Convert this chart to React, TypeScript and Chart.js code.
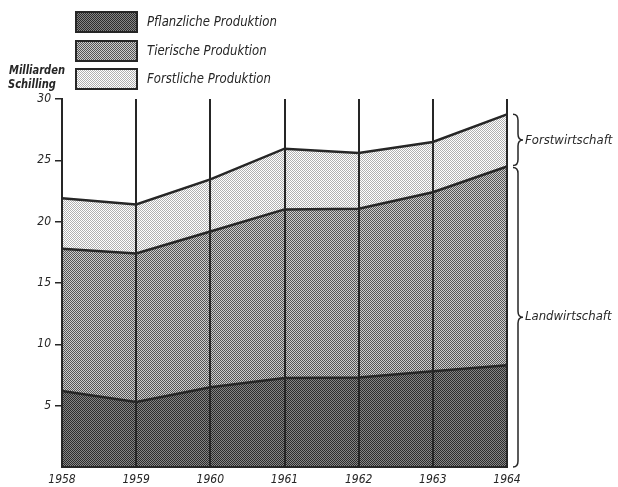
import React, { useEffect, useRef } from "react";
import { Chart, registerables } from "chart.js";

Chart.register(...registerables);

const years = ["1958", "1959", "1960", "1961", "1962", "1963", "1964"];
const pflanzlich = [6.2, 5.3, 6.5, 7.25, 7.3, 7.8, 8.3];
const tierisch = [11.6, 12.1, 12.7, 13.75, 13.75, 14.6, 16.2];
const forstlich = [4.1, 4.0, 4.25, 4.95, 4.55, 4.1, 4.25];
const seriesLabels = ["Pflanzliche Produktion", "Tierische Produktion", "Forstliche Produktion"];
const axisTitle = ["Milliarden", "Schilling"];
const braceLabels = ["Forstwirtschaft", "Landwirtschaft"];

const FONT = "'DejaVu Sans Condensed', 'DejaVu Sans', sans-serif";
const INK = "#262626";

function makePattern(ctx: CanvasRenderingContext2D, a: string, b: string) {
  const c = document.createElement("canvas");
  c.width = 2;
  c.height = 2;
  const p = c.getContext("2d")!;
  p.fillStyle = a;
  p.fillRect(0, 0, 2, 2);
  p.fillStyle = b;
  p.fillRect(0, 0, 1, 1);
  p.fillRect(1, 1, 1, 1);
  return ctx.createPattern(c, "repeat")!;
}

function drawBrace(ctx: CanvasRenderingContext2D, x: number, y1: number, y2: number, w: number) {
  const ym = (y1 + y2) / 2;
  const r = Math.min(6, (y2 - y1) / 4);
  const xm = x + w / 2;
  ctx.beginPath();
  ctx.moveTo(x, y1);
  ctx.quadraticCurveTo(xm, y1, xm, y1 + r);
  ctx.lineTo(xm, ym - r);
  ctx.quadraticCurveTo(xm, ym, x + w, ym);
  ctx.quadraticCurveTo(xm, ym, xm, ym + r);
  ctx.lineTo(xm, y2 - r);
  ctx.quadraticCurveTo(xm, y2, x, y2);
  ctx.stroke();
}

export default function App() {
  const ref = useRef<HTMLCanvasElement>(null);

  useEffect(() => {
    const canvas = ref.current!;
    const ctx = canvas.getContext("2d")!;
    const fills = [
      makePattern(ctx, "#858585", "#2c2c2c"),
      makePattern(ctx, "#cccccc", "#555555"),
      makePattern(ctx, "#ffffff", "#b0b0b0"),
    ];

    const extras = {
      id: "extras",
      afterDraw(chart: any) {
        const c = chart.ctx as CanvasRenderingContext2D;
        c.save();
        // legend
        const boxX = 76, boxW = 61, boxH = 20;
        const boxYs = [12, 41, 69];
        chart.data.datasets.forEach((ds: any, i: number) => {
          c.fillStyle = ds.backgroundColor;
          c.fillRect(boxX, boxYs[i], boxW, boxH);
          c.strokeStyle = INK;
          c.lineWidth = 2;
          c.strokeRect(boxX, boxYs[i], boxW, boxH);
          c.fillStyle = INK;
          c.font = `italic 14px ${FONT}`;
          c.textAlign = "left";
          c.textBaseline = "middle";
          c.save();
          c.translate(147, boxYs[i] + boxH / 2);
          c.scale(0.93, 1);
          c.fillText(ds.label, 0, 0);
          c.restore();
        });
        // axis title
        c.font = `italic bold 12px ${FONT}`;
        c.textAlign = "left";
        c.textBaseline = "middle";
        c.fillStyle = INK;
        c.save();
        c.translate(9, 71);
        c.scale(0.92, 1);
        c.fillText(axisTitle[0], 0, 0);
        c.restore();
        c.save();
        c.translate(8, 85);
        c.scale(0.92, 1);
        c.fillText(axisTitle[1], 0, 0);
        c.restore();
        // braces
        const last = years.length - 1;
        const yTop = chart.getDatasetMeta(2).data[last].y;
        const yMid = chart.getDatasetMeta(1).data[last].y;
        const yBot = chart.scales.y.getPixelForValue(0);
        c.strokeStyle = INK;
        c.lineWidth = 1.5;
        drawBrace(c, 513, yTop, yMid - 1, 10);
        drawBrace(c, 513, yMid + 1, yBot, 10);
        c.font = `italic 13px ${FONT}`;
        c.textAlign = "left";
        c.fillText(braceLabels[0], 525, (yTop + yMid) / 2);
        c.fillText(braceLabels[1], 525, (yMid + yBot) / 2);
        c.restore();
      },
    };

    const chart = new Chart(canvas, {
      type: "line",
      data: {
        labels: years,
        datasets: [
          { label: seriesLabels[0], data: pflanzlich, backgroundColor: fills[0] as any, fill: "origin" },
          { label: seriesLabels[1], data: tierisch, backgroundColor: fills[1] as any, fill: "-1" },
          { label: seriesLabels[2], data: forstlich, backgroundColor: fills[2] as any, fill: "-1" },
        ].map((d) => ({
          ...d,
          borderColor: INK,
          borderWidth: 2.5,
          pointRadius: 0,
          tension: 0,
        })),
      },
      options: {
        animation: false,
        responsive: true,
        maintainAspectRatio: false,
        layout: { padding: { top: 99, right: 111, left: 0, bottom: 0 } },
        plugins: { legend: { display: false }, tooltip: { enabled: false } },
        scales: {
          x: {
            grid: { z: 1, color: INK, lineWidth: 2, drawTicks: false },
            border: { z: 1, display: true, color: INK, width: 2 },
            ticks: {
              color: INK,
              padding: 6,
              maxRotation: 0,
              font: { family: FONT, size: 12, style: "italic" },
            },
            afterFit(scale: any) {
              scale.height = 20;
            },
          },
          y: {
            stacked: true,
            min: 0,
            max: 30,
            grid: {
              z: 1,
              drawOnChartArea: false,
              drawTicks: true,
              tickLength: 7,
              color: (c: any) => (c.tick && c.tick.value === 0 ? "rgba(0,0,0,0)" : INK),
              lineWidth: 1.5,
            },
            border: { z: 1, display: true, color: INK, width: 2 },
            ticks: {
              stepSize: 5,
              color: INK,
              padding: 4,
              font: { family: FONT, size: 12, style: "italic" },
              callback: (v: any) => (v === 0 ? "" : String(v)),
            },
            afterFit(scale: any) {
              scale.width = 62;
            },
          },
        },
      },
      plugins: [extras],
    });
    return () => chart.destroy();
  }, []);

  return (
    <div style={{ position: "fixed", left: 0, top: 0, width: 618, height: 487, background: "#fff" }}>
      <canvas ref={ref} />
    </div>
  );
}
